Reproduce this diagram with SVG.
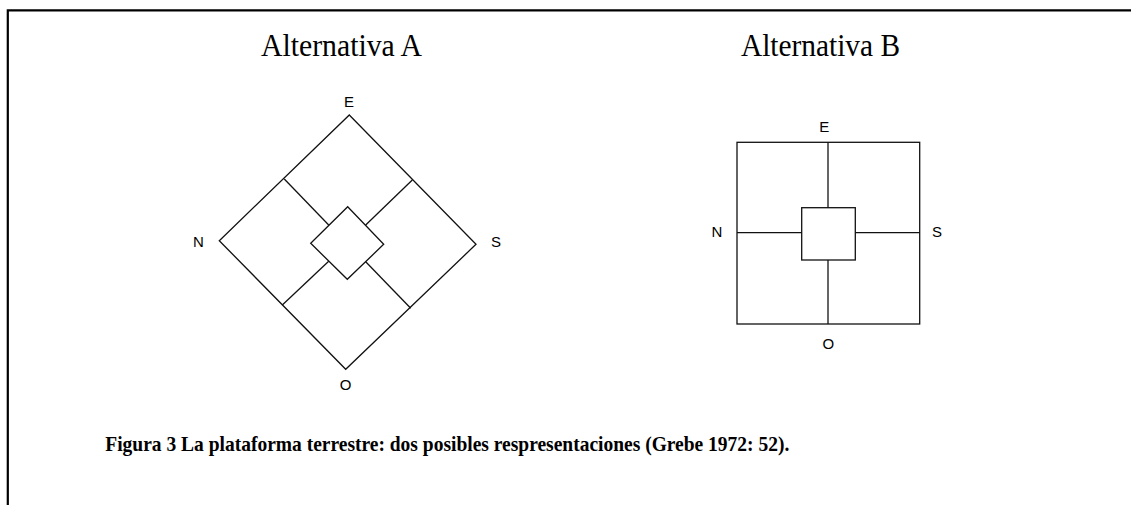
<svg xmlns="http://www.w3.org/2000/svg" width="1131" height="505" viewBox="0 0 1131 505">
<style>
.frame{fill:none;stroke:#000;stroke-width:2.2}
.ln{fill:none;stroke:#111;stroke-width:1.3;stroke-linejoin:miter}
.title{font-family:"Liberation Serif","Times New Roman",serif;font-size:31px;fill:#000}
.lbl{font-family:"Liberation Sans",Arial,sans-serif;font-size:15px;fill:#000;text-anchor:middle}
.cap{font-family:"Liberation Serif","Times New Roman",serif;font-size:22px;font-weight:bold;fill:#000}
</style>
<rect width="1131" height="505" fill="#fff"/>
<path class="frame" d="M7.8,505 V10.3 H1131"/>
<text class="title" x="261" y="56" textLength="161" lengthAdjust="spacingAndGlyphs">Alternativa A</text>
<text class="title" x="741" y="56" textLength="159" lengthAdjust="spacingAndGlyphs">Alternativa B</text>
<g id="alternativaA">
<polygon class="ln" points="349.3,115 476,244.3 345.7,369.3 219.3,240.7"/>
<polygon class="ln" points="347.7,206.7 383.7,244.3 347.3,279.3 310.7,243.3"/>
<g id="connectorsA">
<line class="ln" x1="284.3" y1="179" x2="328.7" y2="225"/>
<line class="ln" x1="412.3" y1="180" x2="365.7" y2="225"/>
<line class="ln" x1="282.3" y1="305" x2="328.7" y2="261.3"/>
<line class="ln" x1="410.7" y1="308.3" x2="365.7" y2="261.7"/>
</g>
<text class="lbl" x="349" y="107">E</text>
<text class="lbl" x="198.5" y="246.5">N</text>
<text class="lbl" x="496" y="246.5">S</text>
<text class="lbl" x="345.7" y="390">O</text>
</g>
<g id="alternativaB">
<rect class="ln" x="737" y="142.3" width="182.7" height="181.7"/>
<rect class="ln" x="801.7" y="207.7" width="53.6" height="52.3"/>
<g id="connectorsB">
<line class="ln" x1="828" y1="142.3" x2="828" y2="207.7"/>
<line class="ln" x1="828" y1="260" x2="828" y2="324"/>
<line class="ln" x1="737" y1="232.7" x2="801.7" y2="232.7"/>
<line class="ln" x1="855.3" y1="232.7" x2="919.7" y2="232.7"/>
</g>
<text class="lbl" x="824.3" y="131.5">E</text>
<text class="lbl" x="717" y="237">N</text>
<text class="lbl" x="937" y="237">S</text>
<text class="lbl" x="828.3" y="349">O</text>
</g>
<text class="cap" x="105.3" y="451" textLength="684" lengthAdjust="spacingAndGlyphs">Figura 3 La plataforma terrestre: dos posibles respresentaciones (Grebe 1972: 52).</text>
</svg>
